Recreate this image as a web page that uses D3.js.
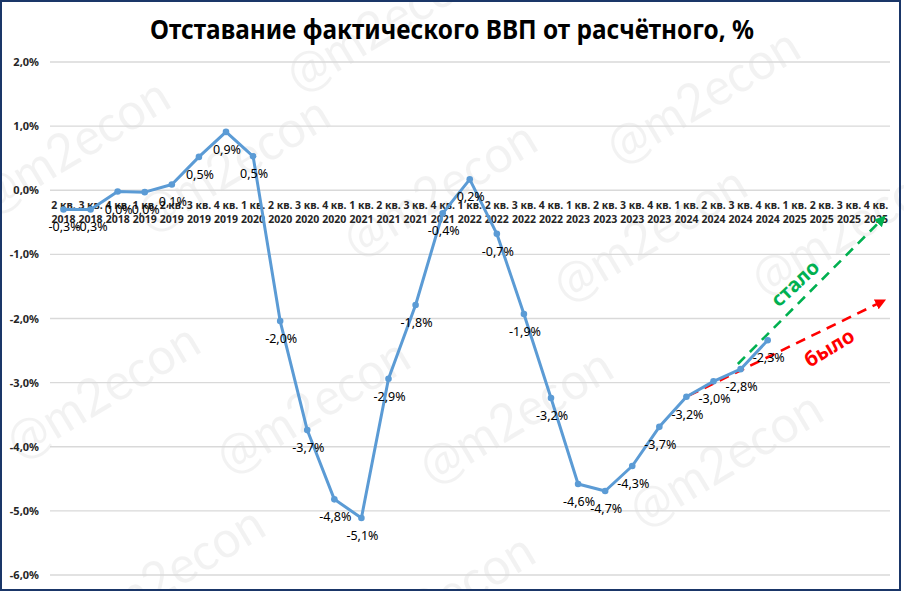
<!DOCTYPE html>
<html><head><meta charset="utf-8">
<script src="https://cdn.jsdelivr.net/npm/d3@7"></script>
<style>
html,body{margin:0;padding:0;background:#fff;}
svg{display:block;font-family:"Noto Sans","Open Sans",sans-serif;}
</style></head>
<body><svg id="c" width="904" height="591"></svg>
<script>
// ---- data ----
const quarters = ["2 кв.","3 кв.","4 кв.","1 кв.","2 кв.","3 кв.","4 кв.","1 кв.","2 кв.","3 кв.","4 кв.","1 кв.","2 кв.","3 кв.","4 кв.","1 кв.","2 кв.","3 кв.","4 кв.","1 кв.","2 кв.","3 кв.","4 кв.","1 кв.","2 кв.","3 кв.","4 кв.","1 кв.","2 кв.","3 кв.","4 кв."];
const years = ["2018","2018","2018","2019","2019","2019","2019","2020","2020","2020","2020","2021","2021","2021","2021","2022","2022","2022","2022","2023","2023","2023","2023","2024","2024","2024","2024","2025","2025","2025","2025"];
const gap = [-0.3,-0.3,-0.02,-0.03,0.09,0.52,0.91,0.53,-2.04,-3.74,-4.82,-5.11,-2.94,-1.79,-0.36,0.17,-0.68,-1.93,-3.24,-4.58,-4.69,-4.30,-3.69,-3.22,-2.98,-2.79,-2.34];
const yTicks = [2,1,0,-1,-2,-3,-4,-5,-6];
// annotation arrows (category index, value)
const wasArrow = [[23.1,-3.2],[30.3,-1.72]];
const nowArrow = [[24.9,-2.71],[30.3,-0.42]];
const title = "Отставание фактического ВВП от расчётного, %";

const svg = d3.select("#c");
const loc = d3.formatLocale({decimal:",",thousands:" ",grouping:[3],currency:["",""],minus:"-"});
const f1 = loc.format(".1f");
const pct = v => { let s = f1(v); if (s === "-0,0") s = "0,0"; return s + "%"; };

const categories = quarters.map((q,i)=>q+" "+years[i]);
const x = d3.scalePoint().domain(categories).range([63.5, 876]);
const xi = d3.scaleLinear().domain([0, categories.length-1]).range([63.5, 876]);
const y = d3.scaleLinear().domain([-6, 2]).range([575, 62]);

// watermarks
const wm = [[75,150],[235,168],[385,28],[705,100],[442,193],[652,238],[850,232],[105,395],[315,410],[518,420],[728,463],[170,578],[440,605]];
svg.append("g").selectAll("text").data(wm).join("text")
  .attr("transform", d=>`translate(${d[0]},${d[1]}) rotate(-31)`)
  .attr("text-anchor","middle").attr("dominant-baseline","middle")
  .attr("font-size",52).attr("fill","#000").attr("fill-opacity",0.05)
  .attr("font-family","Lato, 'Noto Sans', sans-serif")
  .attr("textLength",215).attr("lengthAdjust","spacingAndGlyphs")
  .text("@m2econ");

// gridlines
svg.append("g").selectAll("line").data(yTicks).join("line")
  .attr("x1",50).attr("x2",890)
  .attr("y1",d=>y(d)).attr("y2",d=>y(d))
  .attr("stroke","#d9d9d9").attr("stroke-width",1.3);

// y axis
const yAxis = d3.axisLeft(y).tickValues(yTicks).tickSize(0).tickPadding(0).tickFormat(d=>pct(d));
const ga = svg.append("g").attr("transform","translate(39,0)").call(yAxis);
ga.select(".domain").remove();
ga.selectAll("text").attr("font-size",11).attr("font-weight","bold").attr("fill","#262626")
  .attr("font-family","'Noto Sans',sans-serif");

// x axis labels (two lines)
const xl = svg.append("g").selectAll("g").data(categories).join("g")
  .attr("transform",d=>`translate(${x(d)},0)`);
xl.append("text").attr("y",209).attr("text-anchor","middle")
  .attr("font-size",10.5).attr("font-weight","bold").attr("fill","#262626")
  .text((d,i)=>quarters[i]);
xl.append("text").attr("y",223).attr("text-anchor","middle")
  .attr("font-size",10.5).attr("font-weight","bold").attr("fill","#262626")
  .text((d,i)=>years[i]);

// arrows
const defs = svg.append("defs");
[["arrR","#ff0000"],["arrG","#00b050"]].forEach(([id,c])=>{
  defs.append("marker").attr("id",id).attr("viewBox","0 0 10 10").attr("refX",8).attr("refY",5)
    .attr("markerWidth",4.2).attr("markerHeight",4.2).attr("orient","auto")
    .append("path").attr("d","M0,0 L10,5 L0,10 z").attr("fill",c);
});
const aline = d3.line().x(d=>xi(d[0])).y(d=>y(d[1]));
svg.append("path").attr("d",aline(wasArrow)).attr("fill","none").attr("stroke","#ff0000")
  .attr("stroke-width",2.6).attr("stroke-dasharray","10,7").attr("marker-end","url(#arrR)");
svg.append("path").attr("d",aline(nowArrow)).attr("fill","none").attr("stroke","#00b050")
  .attr("stroke-width",2.6).attr("stroke-dasharray","10,7").attr("marker-end","url(#arrG)");

// main line
const pts = gap.map((v,i)=>[categories[i],v]);
svg.append("path").attr("d", d3.line().x(d=>x(d[0])).y(d=>y(d[1]))(pts))
  .attr("fill","none").attr("stroke","#5b9bd5").attr("stroke-width",3).attr("stroke-linejoin","round");
svg.append("g").selectAll("circle").data(pts).join("circle")
  .attr("cx",d=>x(d[0])).attr("cy",d=>y(d[1])).attr("r",3.3).attr("fill","#5b9bd5");

// data labels
svg.append("g").selectAll("text").data(pts).join("text")
  .attr("x",d=>x(d[0])+1).attr("y",d=>y(d[1])+22)
  .attr("text-anchor","middle").attr("font-size",12.5).attr("fill","#000")
  .text(d=>pct(d[1]));

// arrow labels
svg.append("text").attr("transform",`translate(${xi(27.05)},${y(-1.47)}) rotate(-43)`)
  .attr("text-anchor","middle").attr("dominant-baseline","middle")
  .attr("font-size",20).attr("font-weight","bold").attr("fill","#00b050").text("стало");
svg.append("text").attr("transform",`translate(${xi(28.3)},${y(-2.48)}) rotate(-31)`)
  .attr("text-anchor","middle").attr("dominant-baseline","middle")
  .attr("font-size",20).attr("font-weight","bold").attr("fill","#ff0000").text("было");

// title
svg.append("text").attr("x",452).attr("y",39).attr("text-anchor","middle")
  .attr("font-size",26).attr("font-weight","bold").attr("fill","#000")
  .attr("textLength",604).attr("lengthAdjust","spacingAndGlyphs").text(title);

// frame
svg.append("rect").attr("x",1).attr("y",1).attr("width",899).attr("height",589)
  .attr("fill","none").attr("stroke","#1a3668").attr("stroke-width",2);
</script></body></html>
